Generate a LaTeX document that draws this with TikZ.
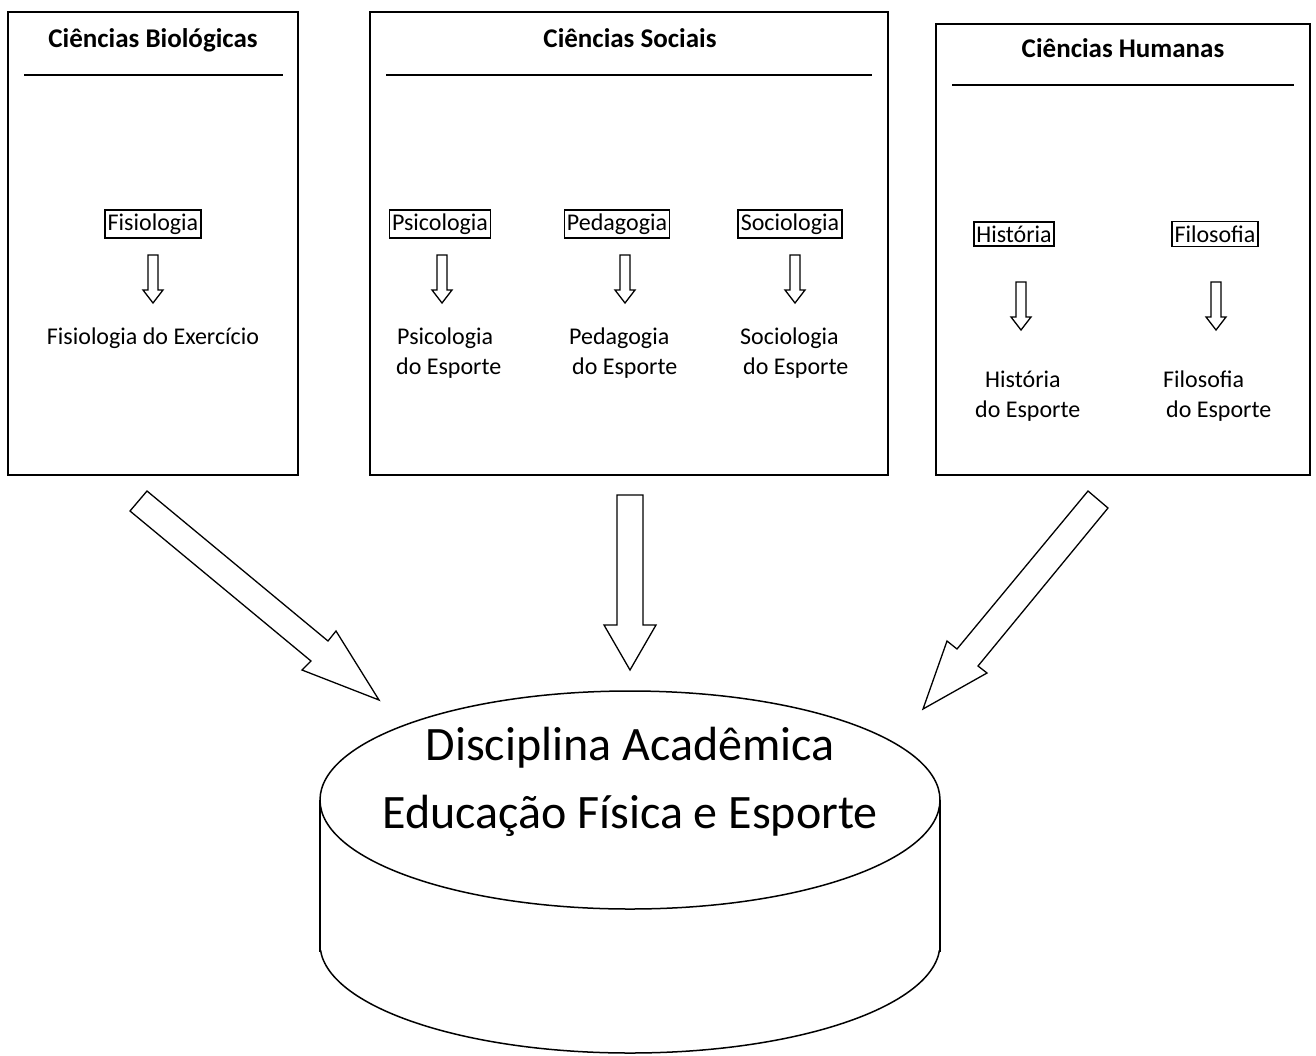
\documentclass[tikz,border=0pt]{standalone}
\usepackage{fontspec}
\setmainfont{Carlito}
\begin{document}
\begin{tikzpicture}[x=1pt,y=-1pt,
  panel/.style={draw, line width=1.8pt},
  rulestyle/.style={line width=1.8pt},
  title/.style={font=\fontsize{27}{30}\selectfont\bfseries, anchor=base, inner sep=0pt},
  tag/.style={draw, line width=1.8pt, font=\fontsize{24}{30}\selectfont, inner xsep=2.5pt, inner ysep=4pt},
  lbl/.style={font=\fontsize{24}{30}\selectfont, anchor=base west, inner sep=0pt},
  hollow/.style={draw, line width=1.3pt, fill=white, line join=miter},
  smallarrow/.pic={\draw[hollow] (-5,0) -- (5,0) -- (5,35) -- (10,35) -- (0,48) -- (-10,35) -- (-5,35) -- cycle;},
  big/.style={font=\fontsize{48}{66}\selectfont, anchor=base, inner sep=0pt}
]
\useasboundingbox (0,0) rectangle (1316,1055);

% panels
\draw[panel] (8,12) rectangle (298,475);
\draw[panel] (370,12) rectangle (888,475);
\draw[panel] (936,24) rectangle (1310,475);
\draw[rulestyle] (24,75) -- (283,75);
\draw[rulestyle] (386,75) -- (872,75);
\draw[rulestyle] (952,85) -- (1294,85);

% Ciencias Biologicas
\node[title] (tbio) at (153,47) {Ciências Biológicas};
\node[tag] (fis) at (153,224) {Fisiologia};
\pic at (153,255) {smallarrow};
\node[lbl, anchor=base] (fisex) at (153,344) {Fisiologia do Exercício};

% Ciencias Sociais
\node[title] (tsoc) at (630,47) {Ciências Sociais};
\node[tag] (psi) at (440,224) {Psicologia};
\node[tag] (ped) at (617,224) {Pedagogia};
\node[tag] (soc) at (790,224) {Sociologia};
\pic at (442,255) {smallarrow};
\pic at (625,255) {smallarrow};
\pic at (795,255) {smallarrow};
\node[lbl] (psi1) at (397,344) {Psicologia};
\node[lbl] (psi2) at (396,374) {do Esporte};
\node[lbl] (ped1) at (569,344) {Pedagogia};
\node[lbl] (ped2) at (572,374) {do Esporte};
\node[lbl] (soc1) at (740,344) {Sociologia};
\node[lbl] (soc2) at (743,374) {do Esporte};

% Ciencias Humanas
\node[title] (thum) at (1123,57) {Ciências Humanas};
\node[tag] (his) at (1014,234) {História};
\node[tag] (fil) at (1215,234) {Filosofia};
\pic at (1021,282) {smallarrow};
\pic at (1216,282) {smallarrow};
\node[lbl] (his1) at (985,387) {História};
\node[lbl] (his2) at (975,417) {do Esporte};
\node[lbl] (fil1) at (1163,387) {Filosofia};
\node[lbl] (fil2) at (1166,417) {do Esporte};

% big arrows
\draw[hollow] (147,491) -- (328,641) -- (336,631) -- (379,700) -- (302,670) -- (311,661) -- (130,511) -- cycle;
\draw[hollow] (617,495) -- (643,495) -- (643,625) -- (656,625) -- (630,670) -- (604,625) -- (617,625) -- cycle;
\draw[hollow] (1088,491) -- (1108,508) -- (978,666) -- (987,673) -- (923,709) -- (947,641) -- (957,649) -- cycle;

% cylinder
\draw[line width=1.5pt] (320,800) -- (320,952);
\draw[line width=1.5pt] (940,800) -- (940,952);
\begin{scope}
\clip (300,950) rectangle (960,1060);
\draw[line width=1.5pt] (630,944) ellipse [x radius=310, y radius=109];
\end{scope}
\draw[line width=1.5pt, fill=white] (630,800) ellipse [x radius=310, y radius=109];
\node[big] (d1) at (630,760) {Disciplina Acadêmica};
\node[big] (d2) at (630,828) {Educação Física e Esporte};
\end{tikzpicture}
\end{document}
